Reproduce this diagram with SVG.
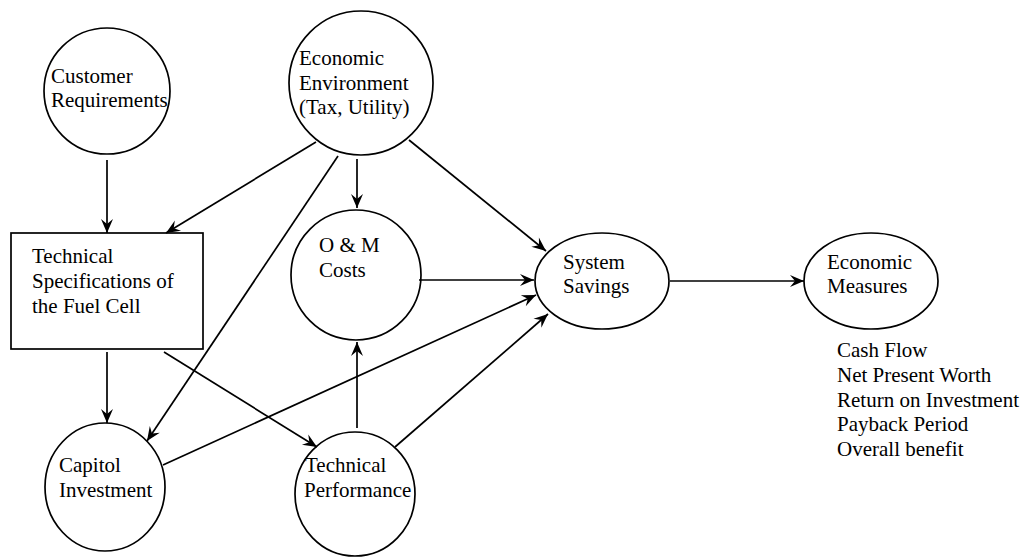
<svg xmlns="http://www.w3.org/2000/svg" width="1026" height="558" viewBox="0 0 1026 558">
<style>
.n{fill:#fff;stroke:#000;stroke-width:1.7}
.t{font-family:"Liberation Serif","Times New Roman",serif;font-size:21px;fill:#000}
.c line{stroke:#000;stroke-width:1.7;marker-end:url(#ah)}
</style>
<defs>
<marker id="ah" viewBox="-15 -7 16 14" refX="0" refY="0" markerWidth="16" markerHeight="14" markerUnits="userSpaceOnUse" orient="auto">
<path d="M0,0 L-14,-6 L-9,0 L-14,6 Z" fill="#000"/>
</marker>
</defs>
<rect width="1026" height="558" fill="#fff"/>
<g id="customer"><circle class="n" cx="107" cy="91" r="63"/><text class="t" x="51" y="83">Customer</text><text class="t" x="51" y="107">Requirements</text></g>
<g id="econenv"><circle class="n" cx="361" cy="83" r="72"/><text class="t" x="299" y="65">Economic</text><text class="t" x="299" y="90">Environment</text><text class="t" x="299" y="114">(Tax, Utility)</text></g>
<g id="techspec"><rect class="n" x="11" y="233" width="192" height="116"/><text class="t" x="32" y="263">Technical</text><text class="t" x="32" y="288">Specifications of</text><text class="t" x="32" y="313">the Fuel Cell</text></g>
<g id="om"><circle class="n" cx="356" cy="275" r="65"/><text class="t" x="319" y="252">O &amp; M</text><text class="t" x="319" y="277">Costs</text></g>
<g id="capitol"><ellipse class="n" cx="105" cy="487" rx="60" ry="64"/><text class="t" x="59" y="472">Capitol</text><text class="t" x="59" y="497">Investment</text></g>
<g id="techperf"><ellipse class="n" cx="355" cy="494" rx="60" ry="62"/><text class="t" x="305" y="472">Technical</text><text class="t" x="304" y="497">Performance</text></g>
<g id="savings"><ellipse class="n" cx="602" cy="281" rx="67" ry="48"/><text class="t" x="563" y="269">System</text><text class="t" x="563" y="293">Savings</text></g>
<g id="measures"><ellipse class="n" cx="871" cy="281" rx="67" ry="48"/><text class="t" x="827" y="269">Economic</text><text class="t" x="827" y="293">Measures</text></g>
<g id="list"><text class="t" x="837" y="357">Cash Flow</text><text class="t" x="837" y="382">Net Present Worth</text><text class="t" x="837" y="407">Return on Investment</text><text class="t" x="837" y="431">Payback Period</text><text class="t" x="837" y="456">Overall benefit</text></g>
<g id="connectors" class="c">
<line x1="107" y1="160" x2="107" y2="233"/>
<line x1="316" y1="142" x2="166" y2="233"/>
<line x1="338" y1="156" x2="147" y2="441"/>
<line x1="357" y1="159" x2="357" y2="208"/>
<line x1="409" y1="140" x2="546" y2="251"/>
<line x1="419" y1="280" x2="534" y2="280"/>
<line x1="163" y1="465" x2="536" y2="295"/>
<line x1="395" y1="447" x2="548" y2="314"/>
<line x1="107" y1="352" x2="107" y2="423"/>
<line x1="164" y1="352" x2="317" y2="447"/>
<line x1="357" y1="428" x2="357" y2="342"/>
<line x1="670" y1="281" x2="804" y2="281"/>
</g>
</svg>
